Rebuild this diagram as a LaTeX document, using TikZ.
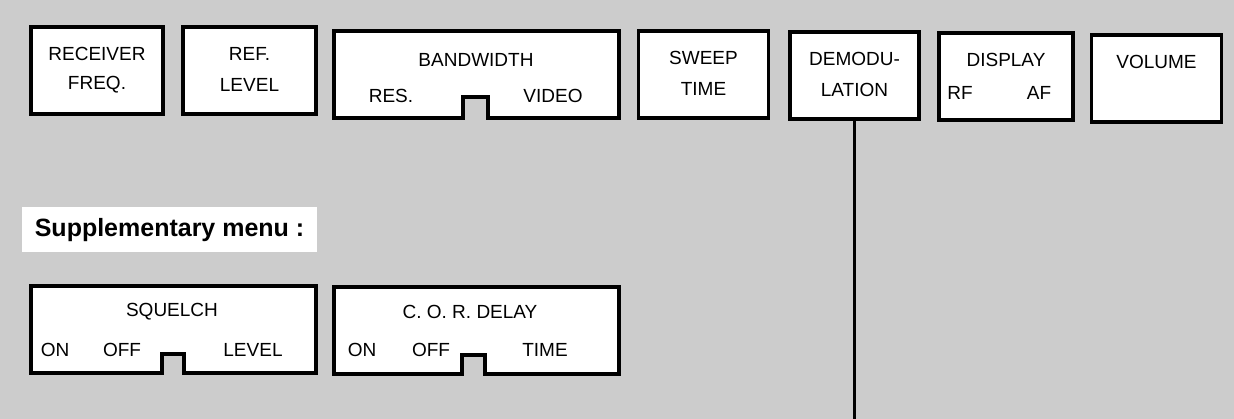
\documentclass[tikz,border=0pt]{standalone}
\usepackage{fontspec}
\setmainfont{Liberation Sans}
\begin{document}
\begin{tikzpicture}[x=1pt, y=-1pt, line width=3.6pt,
  keybox/.style={draw, fill=white, minimum height=87pt, inner sep=0pt},
  plainbox/.style={minimum height=87pt, inner sep=0pt, outer sep=0pt},
  keytext/.style={font=\fontsize{19}{21}\selectfont, inner sep=1pt}]
  \useasboundingbox (0,0) rectangle (1234,419);
  \fill[black!20] (0,0) rectangle (1234,419);
  % main menu
  \node (receiver) [keybox, minimum width=132pt] at (97,70.5) {};
  \node[keytext] at (97,54) {RECEIVER};
  \node[keytext] at (97,85) {FREQ.};
  \node (reflevel) [keybox, minimum width=133pt] at (249.5,70.5) {};
  \node[keytext] at (249.5,54) {REF.};
  \node[keytext] at (249.5,85) {LEVEL};
  \node (bandwidth) [plainbox, minimum width=285pt] at (476.5,74.5) {};
  \filldraw[fill=white] (bandwidth.north west) -- (bandwidth.north east) -- (bandwidth.south east)
    -- (488,118) -- (488,97) -- (463,97) -- (463,118) -- (bandwidth.south west) -- cycle;
  \node[keytext] at (476,60) {BANDWIDTH};
  \node[keytext] at (391,96) {RES.};
  \node[keytext] at (553,96) {VIDEO};
  \node (sweep) [keybox, minimum width=130pt] at (703.5,74.5) {};
  \node[keytext] at (703.5,58) {SWEEP};
  \node[keytext] at (703.5,89) {TIME};
  \node (demod) [keybox, minimum width=129pt] at (854.5,75.5) {};
  \node[keytext] at (854.5,59) {DEMODU-};
  \node[keytext] at (854.5,90) {LATION};
  \node (display) [keybox, minimum width=134pt] at (1006,76.5) {};
  \node[keytext] at (1006,60) {DISPLAY};
  \node[keytext] at (960,93) {RF};
  \node[keytext] at (1039,93) {AF};
  \node (volume) [keybox, minimum width=130pt] at (1156.5,78.5) {};
  \node[keytext] at (1156.5,62) {VOLUME};
  \coordinate (lineend) at (854.5,419);
  \draw (demod.south) -- (lineend);
  % supplementary menu
  \node (supp) [fill=white, anchor=west, inner xsep=13pt, minimum height=45pt,
    font=\bfseries\fontsize{25}{27}\selectfont] at (20,230) {Supplementary menu :};
  \node (squelch) [plainbox, minimum width=285pt] at (173.5,329.5) {};
  \filldraw[fill=white] (squelch.north west) -- (squelch.north east) -- (squelch.south east)
    -- (184,373) -- (184,354) -- (162,354) -- (162,373) -- (squelch.south west) -- cycle;
  \node[keytext] at (172,312) {SQUELCH};
  \node[keytext] at (55,350) {ON};
  \node[keytext] at (122,350) {OFF};
  \node[keytext] at (253,350) {LEVEL};
  \node (cordelay) [plainbox, minimum width=285pt] at (476.5,330.5) {};
  \filldraw[fill=white] (cordelay.north west) -- (cordelay.north east) -- (cordelay.south east)
    -- (485,374) -- (485,355) -- (462,355) -- (462,374) -- (cordelay.south west) -- cycle;
  \node[keytext] at (470,312) {C. O. R. DELAY};
  \node[keytext] at (362,350) {ON};
  \node[keytext] at (431,350) {OFF};
  \node[keytext] at (545,350) {TIME};
\end{tikzpicture}
\end{document}
